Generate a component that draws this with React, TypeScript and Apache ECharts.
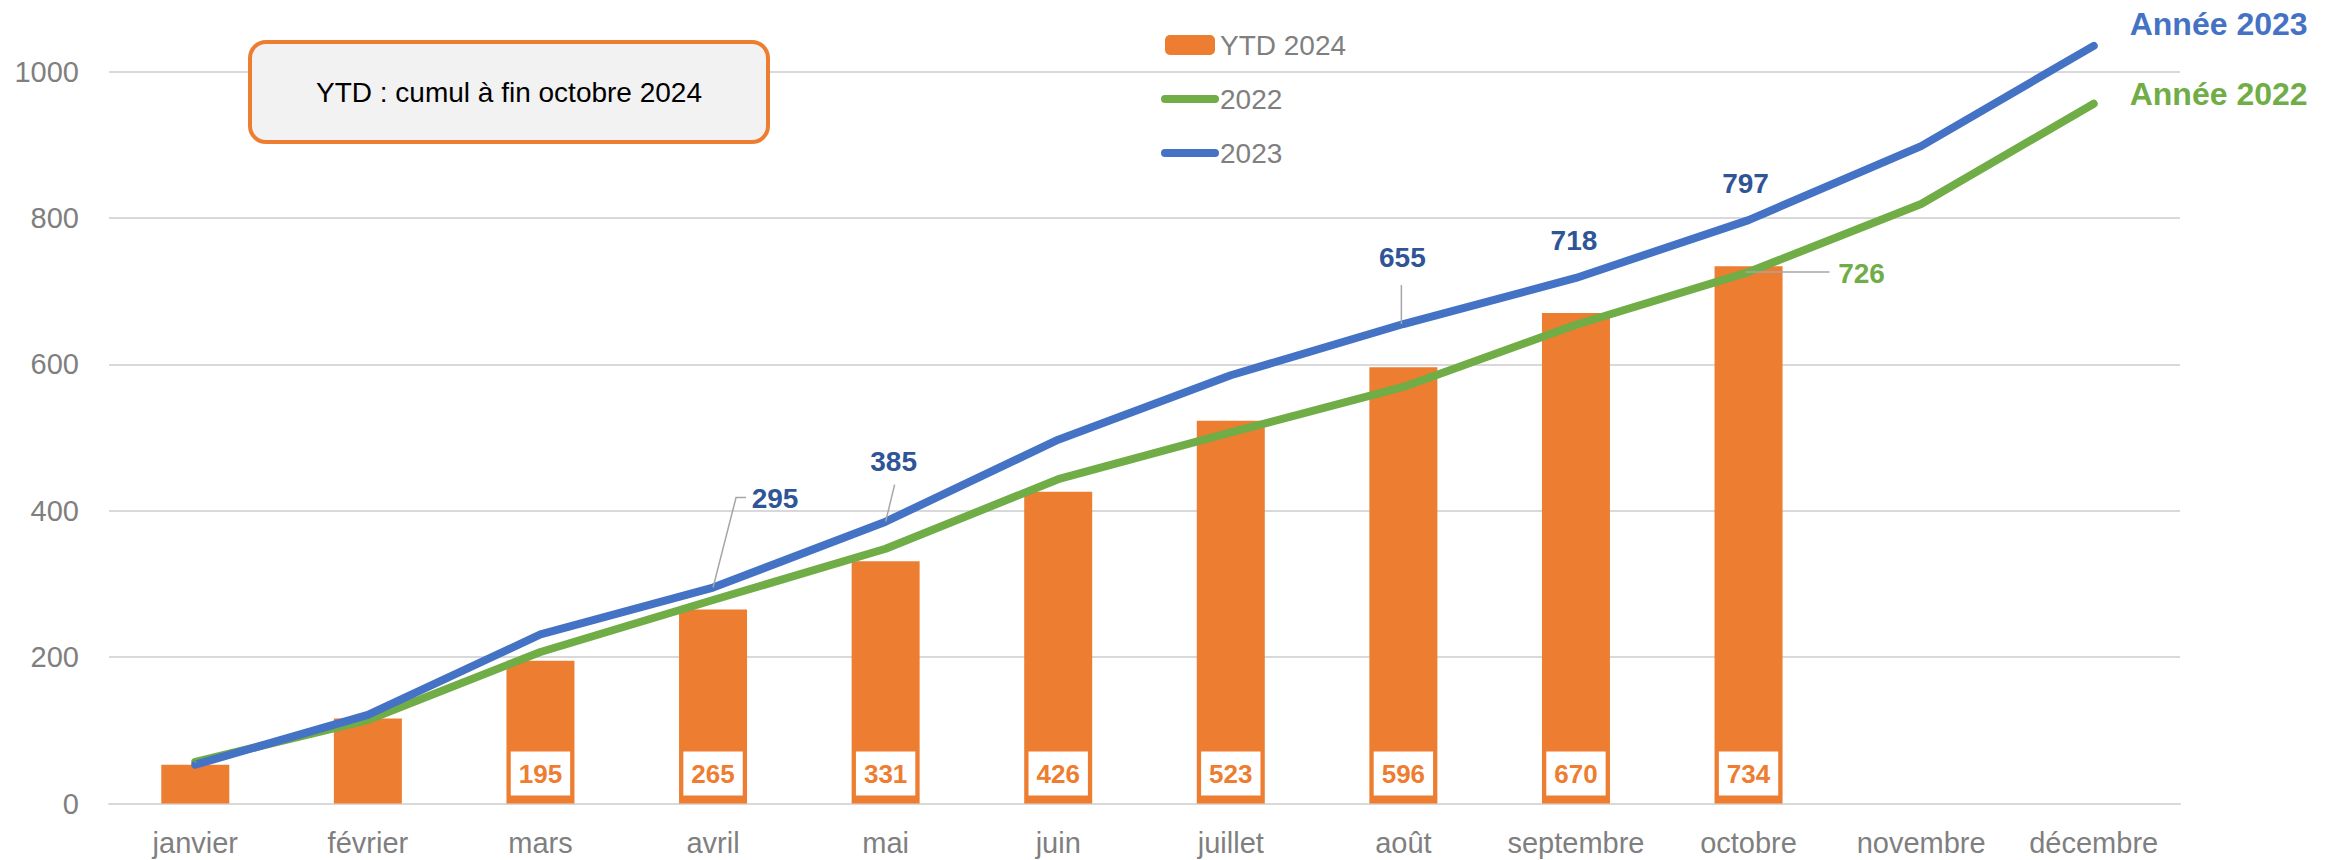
import React, { useEffect, useRef } from "react";
import * as echarts from "echarts";

const categories = ["janvier", "février", "mars", "avril", "mai", "juin", "juillet", "août", "septembre", "octobre", "novembre", "décembre"];
const ytd2024 = [53, 116, 195, 265, 331, 426, 523, 596, 670, 734];
const ytdLabelShown = [false, false, true, true, true, true, true, true, true, true];
const values2022 = [57, 114, 207, 278, 348, 443, 507, 569, 654, 726, 819, 956];
const values2023 = [53, 121, 231, 295, 385, 497, 585, 655, 718, 797, 898, 1035];
const yTicks = { min: 0, max: 1000, interval: 200 };

// annotation styling (offsets in px relative to the data point)
const labels2023: Record<number, { off: [number, number]; leader?: [number, number][] }> = {
  3: { off: [62, -89], leader: [[0, 0], [23, -90], [33, -90]] },
  4: { off: [8, -60], leader: [[0, 0], [9, -37]] },
  7: { off: [-1, -67], leader: [[-2, 0], [-2, -39]] },
  8: { off: [-2, -37] },
  9: { off: [-3, -37] },
};
const labels2022: Record<number, { off: [number, number]; leader?: [number, number][] }> = {
  9: { off: [113, 1], leader: [[-3, 0], [81, 0]] },
};

const FONT = "'Liberation Sans', Arial, sans-serif";
const ORANGE = "#ED7D31";
const GREEN = "#70AD47";
const BLUE = "#4472C4";
const DARKBLUE = "#2F5597";
const GRAY = "#7F7F7F";

export default function App() {
  const ref = useRef<HTMLDivElement>(null);
  useEffect(() => {
    document.body.style.margin = "0";
    if (!ref.current) return;
    const chart = echarts.init(ref.current, undefined, { renderer: "svg" });

    const lineData = (vals: number[], defs: typeof labels2023, color: string) =>
      vals.map((v, i) =>
        defs[i]
          ? {
              value: v,
              label: {
                show: true,
                position: "inside",
                offset: defs[i].off,
                color,
                fontSize: 28,
                fontWeight: "bold",
                fontFamily: FONT,
              },
            }
          : v
      );

    chart.setOption({
      animation: false,
      textStyle: { fontFamily: FONT },
      grid: { left: 109, right: 153, top: 71.5, bottom: 56.5, containLabel: false },
      legend: {
        orient: "vertical",
        left: 1161,
        top: 31,
        padding: 0,
        itemWidth: 50,
        itemHeight: 20,
        itemGap: 26,
        textStyle: { fontSize: 28, color: GRAY, fontFamily: FONT, lineHeight: 28 },
        lineStyle: { width: 8 },
        data: [
          { name: "YTD 2024" },
          { name: "2022", itemStyle: { opacity: 0 } },
          { name: "2023", itemStyle: { opacity: 0 } },
        ],
        selectedMode: false,
      },
      xAxis: {
        type: "category",
        data: categories,
        axisTick: { show: false },
        axisLine: { lineStyle: { color: "#D9D9D9", width: 2 } },
        axisLabel: { interval: 0, fontSize: 29, color: GRAY, margin: 24, lineHeight: 30, fontFamily: FONT },
      },
      yAxis: {
        type: "value",
        min: yTicks.min,
        max: yTicks.max,
        interval: yTicks.interval,
        axisLine: { show: false },
        axisTick: { show: false },
        splitLine: { lineStyle: { color: "#D9D9D9", width: 2 } },
        axisLabel: { fontSize: 29, color: GRAY, margin: 30, fontFamily: FONT, formatter: (v: number) => String(v) },
      },
      series: [
        {
          name: "YTD 2024",
          type: "bar",
          barWidth: 68,
          itemStyle: { color: ORANGE },
          emphasis: { disabled: true },
          data: ytd2024.map((v, i) => ({
            value: v,
            label: {
              show: ytdLabelShown[i],
              position: "insideBottom",
              distance: 8,
              backgroundColor: "#FFFFFF",
              padding: [8, 8, 8, 8],
              color: ORANGE,
              fontSize: 26,
              lineHeight: 28,
              fontWeight: "bold",
              fontFamily: FONT,
            },
          })),
        },
        {
          name: "2022",
          type: "line",
          clip: false,
          symbol: "circle",
          symbolSize: 2,
          showSymbol: true,
          itemStyle: { color: GREEN },
          lineStyle: { color: GREEN, width: 8, cap: "round", join: "round" },
          emphasis: { disabled: true },
          data: lineData(values2022, labels2022, GREEN),
          endLabel: {
            show: true,
            formatter: "Année 2022",
            color: GREEN,
            fontSize: 32,
            fontWeight: "bold",
            fontFamily: FONT,
            distance: 36,
            offset: [0, -10],
          },
        },
        {
          name: "2023",
          type: "line",
          clip: false,
          symbol: "circle",
          symbolSize: 2,
          showSymbol: true,
          itemStyle: { color: BLUE },
          lineStyle: { color: BLUE, width: 8, cap: "round", join: "round" },
          emphasis: { disabled: true },
          data: lineData(values2023, labels2023, DARKBLUE),
          endLabel: {
            show: true,
            formatter: "Année 2023",
            color: BLUE,
            fontSize: 32,
            fontWeight: "bold",
            fontFamily: FONT,
            distance: 36,
            offset: [0, -22],
          },
        },
      ],
    });

    const leaders: any[] = [];
    const addLeaders = (seriesIndex: number, vals: number[], defs: typeof labels2023) => {
      Object.keys(defs).forEach((k) => {
        const i = Number(k);
        const d = defs[i];
        if (!d.leader) return;
        const p = chart.convertToPixel({ seriesIndex }, [i, vals[i]]) as number[];
        leaders.push({
          type: "polyline",
          z: 100,
          silent: true,
          shape: { points: d.leader.map(([dx, dy]) => [p[0] + dx, p[1] + dy]) },
          style: { stroke: "#A6A6A6", lineWidth: 1.5, fill: null },
        });
      });
    };
    addLeaders(2, values2023, labels2023);
    addLeaders(1, values2022, labels2022);

    chart.setOption({
      graphic: [
        {
          type: "group",
          left: 248,
          top: 40,
          children: [
            {
              type: "rect",
              shape: { x: 0, y: 0, width: 518, height: 100, r: 16 },
              style: { fill: "#F2F2F2", stroke: ORANGE, lineWidth: 4 },
            },
            {
              type: "text",
              x: 259,
              y: 50,
              style: {
                text: "YTD : cumul à fin octobre 2024",
                fill: "#000000",
                fontSize: 28,
                fontFamily: FONT,
                align: "center",
                verticalAlign: "middle",
              },
            },
          ],
        },
        ...leaders,
      ],
    });

    return () => chart.dispose();
  }, []);
  return <div ref={ref} style={{ width: 2333, height: 860 }} />;
}
